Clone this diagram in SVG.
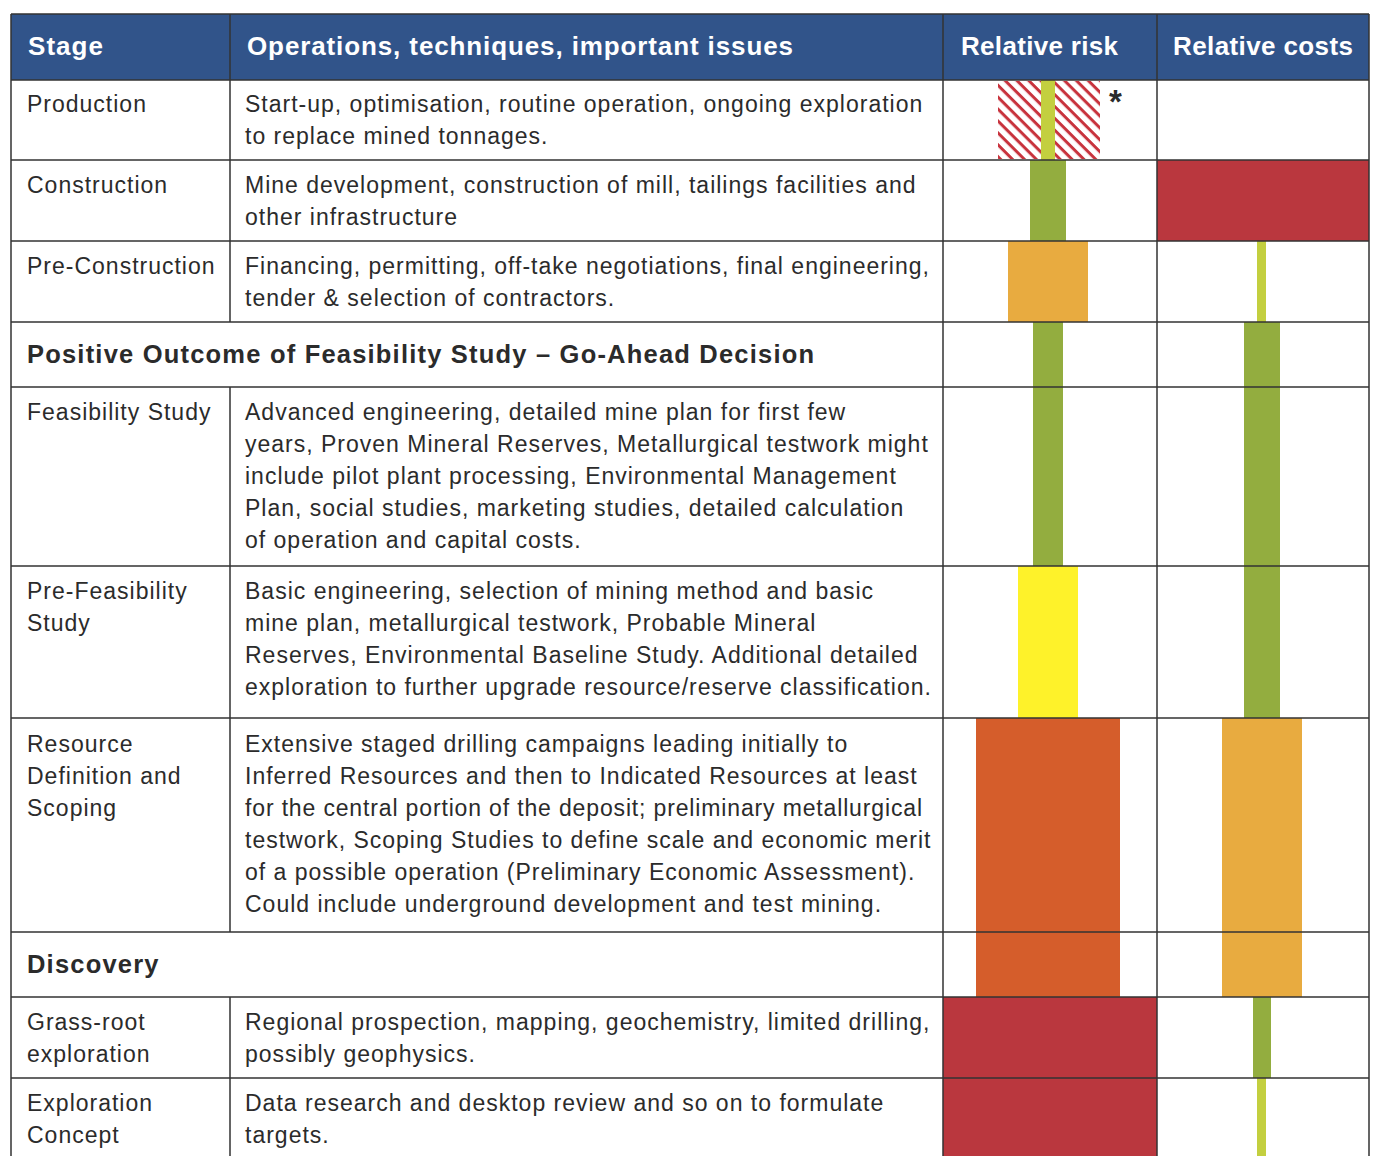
<svg xmlns="http://www.w3.org/2000/svg" width="1373" height="1156" viewBox="0 0 1373 1156">
<defs>
<pattern id="hatch" patternUnits="userSpaceOnUse" width="8.4" height="8.4" patternTransform="rotate(45)">
<rect x="0" y="0" width="8.4" height="3" fill="#c8333d"/>
</pattern>
<style>
.t{font-family:"Liberation Sans",Arial,sans-serif;font-size:23px;letter-spacing:1px;fill:#2b2b2b}
.b{font-family:"Liberation Sans",Arial,sans-serif;font-size:25.5px;letter-spacing:1.2px;font-weight:bold;fill:#2b2b2b}
.h{font-family:"Liberation Sans",Arial,sans-serif;font-size:26px;font-weight:bold;fill:#ffffff}
.red{fill:#ba373e}.grn{fill:#93ad3f}.lgr{fill:#c3cf3f}.org{fill:#e8ab40}.ore{fill:#d55d2b}.yel{fill:#fef22a}
.g{stroke:#333;stroke-width:1.5;fill:none}
</style>
</defs>
<rect x="0" y="0" width="1373" height="1156" fill="#ffffff"/>

<g id="header">
<rect x="11" y="14" width="1358" height="66" fill="#31548a"/>
<text class="h" x="28" y="55" textLength="75" lengthAdjust="spacing">Stage</text>
<text class="h" x="247" y="55" textLength="546" lengthAdjust="spacing">Operations, techniques, important issues</text>
<text class="h" x="961" y="55" textLength="157" lengthAdjust="spacing">Relative risk</text>
<text class="h" x="1173" y="55" textLength="180" lengthAdjust="spacing">Relative costs</text>
</g>

<g id="row-production">
<text class="t" x="27" y="112">Production</text>
<text class="t" x="245" y="112">Start-up, optimisation, routine operation, ongoing exploration</text>
<text class="t" x="245" y="144">to replace mined tonnages.</text>
<rect x="998" y="81" width="102" height="78" fill="url(#hatch)"/>
<rect class="lgr" x="1041" y="80" width="14" height="80"/>
<text x="1109" y="113" font-family="Liberation Sans,Arial,sans-serif" font-size="33" font-weight="bold" fill="#2b2b2b">*</text>
</g>

<g id="row-construction">
<text class="t" x="27" y="193">Construction</text>
<text class="t" x="245" y="193">Mine development, construction of mill, tailings facilities and</text>
<text class="t" x="245" y="225">other infrastructure</text>
<rect class="grn" x="1030" y="160" width="36" height="81"/>
<rect class="red" x="1157" y="160" width="212" height="81"/>
</g>

<g id="row-pre-construction">
<text class="t" x="27" y="274">Pre-Construction</text>
<text class="t" x="245" y="274">Financing, permitting, off-take negotiations, final engineering,</text>
<text class="t" x="245" y="306">tender &amp; selection of contractors.</text>
<rect class="org" x="1008" y="241" width="80" height="81"/>
<rect class="lgr" x="1257" y="241" width="9" height="81"/>
</g>

<g id="row-go-ahead">
<text class="b" x="27" y="363">Positive Outcome of Feasibility Study – Go-Ahead Decision</text>
</g>

<g id="row-feasibility">
<text class="t" x="27" y="420">Feasibility Study</text>
<text class="t" x="245" y="420">Advanced engineering, detailed mine plan for first few</text>
<text class="t" x="245" y="452">years, Proven Mineral Reserves, Metallurgical testwork might</text>
<text class="t" x="245" y="484">include pilot plant processing, Environmental Management</text>
<text class="t" x="245" y="516">Plan, social studies, marketing studies, detailed calculation</text>
<text class="t" x="245" y="548">of operation and capital costs.</text>
<rect class="grn" x="1033" y="322" width="30" height="244"/>
<rect class="grn" x="1244" y="322" width="36" height="396"/>
</g>

<g id="row-pre-feasibility">
<text class="t" x="27" y="599">Pre-Feasibility</text>
<text class="t" x="27" y="631">Study</text>
<text class="t" x="245" y="599">Basic engineering, selection of mining method and basic</text>
<text class="t" x="245" y="631">mine plan, metallurgical testwork, Probable Mineral</text>
<text class="t" x="245" y="663">Reserves, Environmental Baseline Study. Additional detailed</text>
<text class="t" x="245" y="695">exploration to further upgrade resource/reserve classification.</text>
<rect class="yel" x="1018" y="566" width="60" height="152"/>
</g>

<g id="row-resource">
<text class="t" x="27" y="752">Resource</text>
<text class="t" x="27" y="784">Definition and</text>
<text class="t" x="27" y="816">Scoping</text>
<text class="t" x="245" y="752">Extensive staged drilling campaigns leading initially to</text>
<text class="t" x="245" y="784">Inferred Resources and then to Indicated Resources at least</text>
<text class="t" x="245" y="816" textLength="678" lengthAdjust="spacing">for the central portion of the deposit; preliminary metallurgical</text>
<text class="t" x="245" y="848">testwork, Scoping Studies to define scale and economic merit</text>
<text class="t" x="245" y="880">of a possible operation (Preliminary Economic Assessment).</text>
<text class="t" x="245" y="912">Could include underground development and test mining.</text>
<rect class="ore" x="976" y="718" width="144" height="279"/>
<rect class="org" x="1222" y="718" width="80" height="279"/>
</g>

<g id="row-discovery">
<text class="b" x="27" y="973">Discovery</text>
</g>

<g id="row-grass-root">
<text class="t" x="27" y="1030">Grass-root</text>
<text class="t" x="27" y="1062">exploration</text>
<text class="t" x="245" y="1030">Regional prospection, mapping, geochemistry, limited drilling,</text>
<text class="t" x="245" y="1062">possibly geophysics.</text>
<rect class="red" x="943" y="997" width="214" height="159"/>
<rect class="grn" x="1253" y="997" width="18" height="81"/>
</g>

<g id="row-exploration-concept">
<text class="t" x="27" y="1111">Exploration</text>
<text class="t" x="27" y="1143">Concept</text>
<text class="t" x="245" y="1111">Data research and desktop review and so on to formulate</text>
<text class="t" x="245" y="1143">targets.</text>
<rect class="lgr" x="1257" y="1078" width="9" height="78"/>
</g>

<g id="connectors">
<path class="g" d="M11 14H1369M11 80H1369M11 160H1369M11 241H1369M11 322H1369M11 387H1369M11 566H1369M11 718H1369M11 932H1369M11 997H1369M11 1078H1369"/>
<path class="g" d="M11 14V1156M1369 14V1156M943 14V1156M1157 14V1156M230 14V322M230 387V932M230 997V1156"/>
</g>
</svg>
